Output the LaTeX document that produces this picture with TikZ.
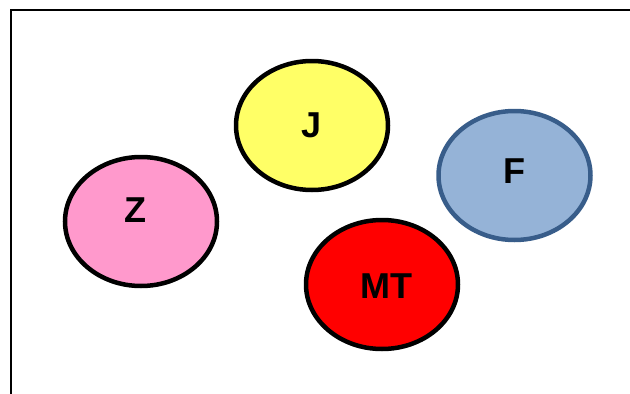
\documentclass[tikz,border=0pt]{standalone}
\usepackage{fontspec}
\setmainfont{Liberation Sans}
\usetikzlibrary{shapes.geometric}
\definecolor{jyellow}{HTML}{FFFF66}
\definecolor{zpink}{HTML}{FF99CC}
\definecolor{fblue}{HTML}{95B3D7}
\definecolor{fborder}{HTML}{385D8A}
\tikzset{
  blob/.style={ellipse, draw=black, line width=4.5pt, minimum width=152pt, minimum height=129pt, inner sep=0pt},
  lbl/.style={inner sep=0pt, font=\fontsize{36}{40}\selectfont\bfseries}
}
\begin{document}
\begin{tikzpicture}[x=1pt,y=-1pt]
\useasboundingbox (0,0) rectangle (630,394);
\draw[line width=2pt] (10.5,396) -- (10.5,9.5) -- (632,9.5);
\node[blob, fill=jyellow] (J) at (312,125.5) {};
\node[blob, fill=fblue, draw=fborder] (F) at (514.5,175.5) {};
\node[blob, fill=zpink] (Z) at (141,221.5) {};
\node[blob, fill=red] (MT) at (382,284.5) {};
\node[lbl] (Jt) at ([shift={(0,0)}]J.center) {J};
\node[lbl] (Ft) at ([shift={(0,-4)}]F.center) {F};
\node[lbl] (Zt) at ([shift={(-6,-11)}]Z.center) {Z};
\node[lbl] (MTt) at ([shift={(4,2)}]MT.center) {MT};
\end{tikzpicture}
\end{document}
